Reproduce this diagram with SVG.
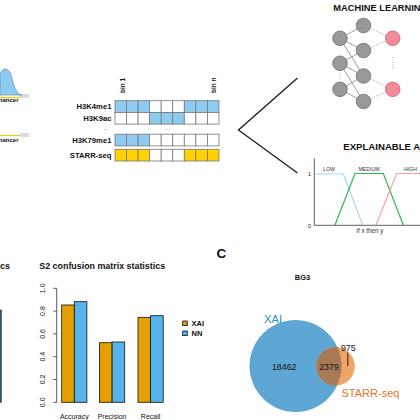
<svg xmlns="http://www.w3.org/2000/svg" width="420" height="420" viewBox="0 0 420 420">
<style>
text{font-family:"Liberation Sans",Arial,sans-serif;fill:#111}
.b{font-weight:bold}
.tg{fill:#333}
.td{fill:#666}
.tblue{fill:#2f88c6}
.torange{fill:#e2732a}
.cb{fill:#8ecbf0;stroke:#777;stroke-width:0.8}
.cw{fill:#fff;stroke:#777;stroke-width:0.8}
.cy{fill:#ffd200;stroke:#777;stroke-width:0.8}
.gn{fill:#999;stroke:#707070;stroke-width:0.8}
.pn{fill:#f28a9a;stroke:#c86070;stroke-width:0.8}
.e{stroke:#777;stroke-width:0.7;fill:none}
.ed{stroke:#999;stroke-width:0.7;fill:none;stroke-dasharray:1.5 1.2}
.ax{stroke:#333;stroke-width:0.8;fill:none}
.xai{fill:#e69f00;stroke:#111;stroke-width:0.8}
.nn{fill:#56b4e9;stroke:#111;stroke-width:0.8}
</style>
<defs>
<clipPath id="oc"><circle cx="335.5" cy="366.3" r="19.3"/></clipPath>
</defs>

<g id="enhancer-tracks">
<path d="M0,74 C3,67 8,67 11,75 C14,86 16,94 22,95 L0,95 Z" fill="#8ecbf0" stroke="#5a8fb0" stroke-width="0.7"/>
<line x1="20" y1="95" x2="29" y2="95" stroke="#888" stroke-width="0.6"/>
<line x1="20" y1="97" x2="29" y2="97" stroke="#888" stroke-width="0.6"/>
<line x1="0" y1="97.5" x2="20" y2="97.5" stroke="#f5d000" stroke-width="1.2"/>
<text x="18.5" y="102" font-size="6" text-anchor="end" class="b">nancer</text>
<line x1="20" y1="134" x2="29" y2="134" stroke="#888" stroke-width="0.6"/>
<line x1="20" y1="136" x2="29" y2="136" stroke="#888" stroke-width="0.6"/>
<line x1="0" y1="135.5" x2="20" y2="135.5" stroke="#f5d000" stroke-width="1.2"/>
<text x="18.5" y="142" font-size="6" text-anchor="end" class="b">nancer</text>
</g>

<g id="feature-matrix">
<text transform="translate(124.5,93) rotate(-90)" font-size="6.5" class="b">bin 1</text>
<text transform="translate(215.5,93) rotate(-90)" font-size="6.5" class="b">bin n</text>
<text x="111.5" y="108.5" font-size="7.7" text-anchor="end" class="b">H3K4me1</text>
<text x="111.5" y="120.5" font-size="7.7" text-anchor="end" class="b">H3K9ac</text>
<text x="106" y="130" font-size="6" text-anchor="middle" class="td">...</text>
<text x="111.5" y="142.5" font-size="7.7" text-anchor="end" class="b">H3K79me1</text>
<text x="111.5" y="157.8" font-size="7.7" text-anchor="end" class="b">STARR-seq</text>
<text x="167.5" y="130" font-size="6" text-anchor="middle" class="td">...</text>
<g>
<rect class="cb" x="115" y="100.7" width="11.55" height="11.7"/>
<rect class="cb" x="126.55" y="100.7" width="11.55" height="11.7"/>
<rect class="cb" x="138.1" y="100.7" width="11.55" height="11.7"/>
<rect class="cw" x="149.65" y="100.7" width="11.55" height="11.7"/>
<rect class="cw" x="161.2" y="100.7" width="11.55" height="11.7"/>
<rect class="cw" x="172.75" y="100.7" width="11.55" height="11.7"/>
<rect class="cb" x="184.3" y="100.7" width="11.55" height="11.7"/>
<rect class="cb" x="195.85" y="100.7" width="11.55" height="11.7"/>
<rect class="cb" x="207.4" y="100.7" width="11.55" height="11.7"/>

<rect class="cw" x="115" y="112.4" width="11.55" height="11.7"/>
<rect class="cw" x="126.55" y="112.4" width="11.55" height="11.7"/>
<rect class="cw" x="138.1" y="112.4" width="11.55" height="11.7"/>
<rect class="cb" x="149.65" y="112.4" width="11.55" height="11.7"/>
<rect class="cb" x="161.2" y="112.4" width="11.55" height="11.7"/>
<rect class="cb" x="172.75" y="112.4" width="11.55" height="11.7"/>
<rect class="cw" x="184.3" y="112.4" width="11.55" height="11.7"/>
<rect class="cw" x="195.85" y="112.4" width="11.55" height="11.7"/>
<rect class="cw" x="207.4" y="112.4" width="11.55" height="11.7"/>

<rect class="cb" x="115" y="134.2" width="11.55" height="11.7"/>
<rect class="cb" x="126.55" y="134.2" width="11.55" height="11.7"/>
<rect class="cb" x="138.1" y="134.2" width="11.55" height="11.7"/>
<rect class="cw" x="149.65" y="134.2" width="11.55" height="11.7"/>
<rect class="cw" x="161.2" y="134.2" width="11.55" height="11.7"/>
<rect class="cw" x="172.75" y="134.2" width="11.55" height="11.7"/>
<rect class="cw" x="184.3" y="134.2" width="11.55" height="11.7"/>
<rect class="cw" x="195.85" y="134.2" width="11.55" height="11.7"/>
<rect class="cw" x="207.4" y="134.2" width="11.55" height="11.7"/>

<rect class="cy" x="115" y="149.3" width="11.55" height="11.7"/>
<rect class="cy" x="126.55" y="149.3" width="11.55" height="11.7"/>
<rect class="cy" x="138.1" y="149.3" width="11.55" height="11.7"/>
<rect class="cw" x="149.65" y="149.3" width="11.55" height="11.7"/>
<rect class="cw" x="161.2" y="149.3" width="11.55" height="11.7"/>
<rect class="cw" x="172.75" y="149.3" width="11.55" height="11.7"/>
<rect class="cy" x="184.3" y="149.3" width="11.55" height="11.7"/>
<rect class="cy" x="195.85" y="149.3" width="11.55" height="11.7"/>
<rect class="cy" x="207.4" y="149.3" width="11.55" height="11.7"/>
</g>
</g>

<g id="connectors">
<polyline points="297.5,78 238.5,130 297.5,173" fill="none" stroke="#222" stroke-width="1.4"/>
</g>

<g id="machine-learning">
<text x="333.3" y="10.8" font-size="9.3" class="b">MACHINE LEARNIN</text>
<g id="nn-edges">
<line class="e" x1="340" y1="38.3" x2="363.5" y2="25.5"/>
<line class="e" x1="340" y1="38.3" x2="363.5" y2="50.5"/>
<line class="e" x1="340" y1="38.3" x2="363.5" y2="76"/>
<line class="e" x1="340" y1="63.3" x2="363.5" y2="50.5"/>
<line class="e" x1="340" y1="63.3" x2="363.5" y2="76"/>
<line class="e" x1="340" y1="63.3" x2="363.5" y2="101.5"/>
<line class="e" x1="340" y1="89.3" x2="363.5" y2="76"/>
<line class="e" x1="340" y1="89.3" x2="363.5" y2="101.5"/>
<line class="ed" x1="363.5" y1="25.5" x2="392.7" y2="38.3"/>
<line class="ed" x1="363.5" y1="50.5" x2="392.7" y2="38.3"/>
<line class="ed" x1="363.5" y1="76" x2="392.7" y2="89.3"/>
<line class="ed" x1="363.5" y1="101.5" x2="392.7" y2="89.3"/>
<line x1="340" y1="72.5" x2="340" y2="80" stroke="#999" stroke-width="0.7" stroke-dasharray="1 1.2"/>
<line x1="392.7" y1="57" x2="392.7" y2="70" stroke="#999" stroke-width="0.7" stroke-dasharray="1 1.5"/>
</g>
<circle id="n1" class="gn" cx="340" cy="38.3" r="7.3"/>
<circle id="n2" class="gn" cx="340" cy="63.3" r="7.3"/>
<circle id="n3" class="gn" cx="340" cy="89.3" r="7.3"/>
<circle id="m1" class="gn" cx="363.5" cy="25.5" r="7.3"/>
<circle id="m2" class="gn" cx="363.5" cy="50.5" r="7.3"/>
<circle id="m3" class="gn" cx="363.5" cy="76" r="7.3"/>
<circle id="m4" class="gn" cx="363.5" cy="101.5" r="7.3"/>
<circle id="p1" class="pn" cx="392.7" cy="38.3" r="7.3"/>
<circle id="p2" class="pn" cx="392.7" cy="89.3" r="7.3"/>
</g>

<g id="explainable-ai">
<text x="343.3" y="150.2" font-size="9.6" class="b">EXPLAINABLE A</text>
<line class="ax" x1="314.3" y1="158.3" x2="314.3" y2="225.3" stroke="#444"/>
<line class="ax" x1="314.3" y1="225.3" x2="420" y2="225.3" stroke="#444"/>
<text x="311" y="175.5" font-size="6" text-anchor="end" class="tg">1</text>
<text x="311" y="227.5" font-size="6" text-anchor="end" class="tg">0</text>
<polyline points="315,174 343.3,174 362.7,225" fill="none" stroke="#a8d8f0" stroke-width="1.2"/>
<polyline points="335,225 355,173.5 383.3,173.5 403.3,225" fill="none" stroke="#2db84a" stroke-width="1.2"/>
<polyline points="376,225 396.7,173.5 420,173.5" fill="none" stroke="#f4a3a3" stroke-width="1.2"/>
<text x="329" y="171" font-size="5.2" text-anchor="middle" class="tg">LOW</text>
<text x="369" y="171" font-size="5.2" text-anchor="middle" class="tg">MEDIUM</text>
<text x="410.5" y="171" font-size="5.2" text-anchor="middle" class="tg">HIGH</text>
<text x="370" y="232.5" font-size="6.3" text-anchor="middle" class="tg">if x then y</text>
</g>

<g id="s1-chart">
<text x="0" y="269" font-size="9" class="b">cs</text>
<rect x="-2" y="310" width="3.3" height="92.3" fill="#2f5568" stroke="#1c3542" stroke-width="0.6"/>
</g>

<g id="s2-chart">
<text x="39.3" y="269" font-size="8.9" class="b">S2 confusion matrix statistics</text>
<line class="ax" x1="56.7" y1="288.3" x2="56.7" y2="402.3"/>
<g class="ax">
<line x1="53.2" y1="402.3" x2="56.7" y2="402.3"/>
<line x1="53.2" y1="379.5" x2="56.7" y2="379.5"/>
<line x1="53.2" y1="356.7" x2="56.7" y2="356.7"/>
<line x1="53.2" y1="333.9" x2="56.7" y2="333.9"/>
<line x1="53.2" y1="311.1" x2="56.7" y2="311.1"/>
<line x1="53.2" y1="288.3" x2="56.7" y2="288.3"/>
</g>
<g font-size="7" text-anchor="middle">
<text transform="translate(45.3,402.3) rotate(-90)">0.0</text>
<text transform="translate(45.3,379.5) rotate(-90)">0.2</text>
<text transform="translate(45.3,356.7) rotate(-90)">0.4</text>
<text transform="translate(45.3,333.9) rotate(-90)">0.6</text>
<text transform="translate(45.3,311.1) rotate(-90)">0.8</text>
<text transform="translate(45.3,288.3) rotate(-90)">1.0</text>
</g>
<rect class="xai" x="61.7" y="305" width="12.6" height="97.3"/>
<rect class="nn" x="74.3" y="301.7" width="12.6" height="100.6"/>
<rect class="xai" x="99.5" y="342.7" width="12.6" height="59.6"/>
<rect class="nn" x="112.1" y="342" width="12.6" height="60.3"/>
<rect class="xai" x="138" y="317.3" width="12.6" height="85"/>
<rect class="nn" x="150.6" y="315.7" width="12.6" height="86.6"/>
<g font-size="7" text-anchor="middle">
<text x="74.3" y="418.5">Accuracy</text>
<text x="112.1" y="418.5">Precision</text>
<text x="150.6" y="418.5">Recall</text>
</g>
<rect class="xai" x="182.7" y="321" width="4.6" height="4.6"/>
<rect class="nn" x="182.7" y="331" width="4.6" height="4.6"/>
<text x="191.5" y="326" font-size="7.5" class="b">XAI</text>
<text x="191.5" y="336" font-size="7.5" class="b">NN</text>
</g>

<g id="venn">
<text x="216.5" y="257.5" font-size="13.5" class="b">C</text>
<text x="302.5" y="279.5" font-size="7.5" class="b" text-anchor="middle">BG3</text>
<circle id="xai-set" cx="295.5" cy="366" r="46" fill="#5ea7d4"/>
<circle id="starr-set" cx="335.5" cy="366.3" r="19.3" fill="#efa468"/>
<circle cx="295.5" cy="366" r="46" fill="#a87a58" clip-path="url(#oc)"/>
<text x="264" y="323" font-size="11.2" class="tblue">XAI</text>
<text x="341.5" y="397" font-size="11" class="torange">STARR-seq</text>
<text x="284.2" y="369.5" font-size="8.8" text-anchor="middle">18462</text>
<text x="329" y="369.5" font-size="8.8" text-anchor="middle">2379</text>
<text x="348.3" y="350.5" font-size="8.8" text-anchor="middle">975</text>
<line x1="347.8" y1="352.5" x2="347.8" y2="366" stroke="#111" stroke-width="0.9"/>
</g>
</svg>
